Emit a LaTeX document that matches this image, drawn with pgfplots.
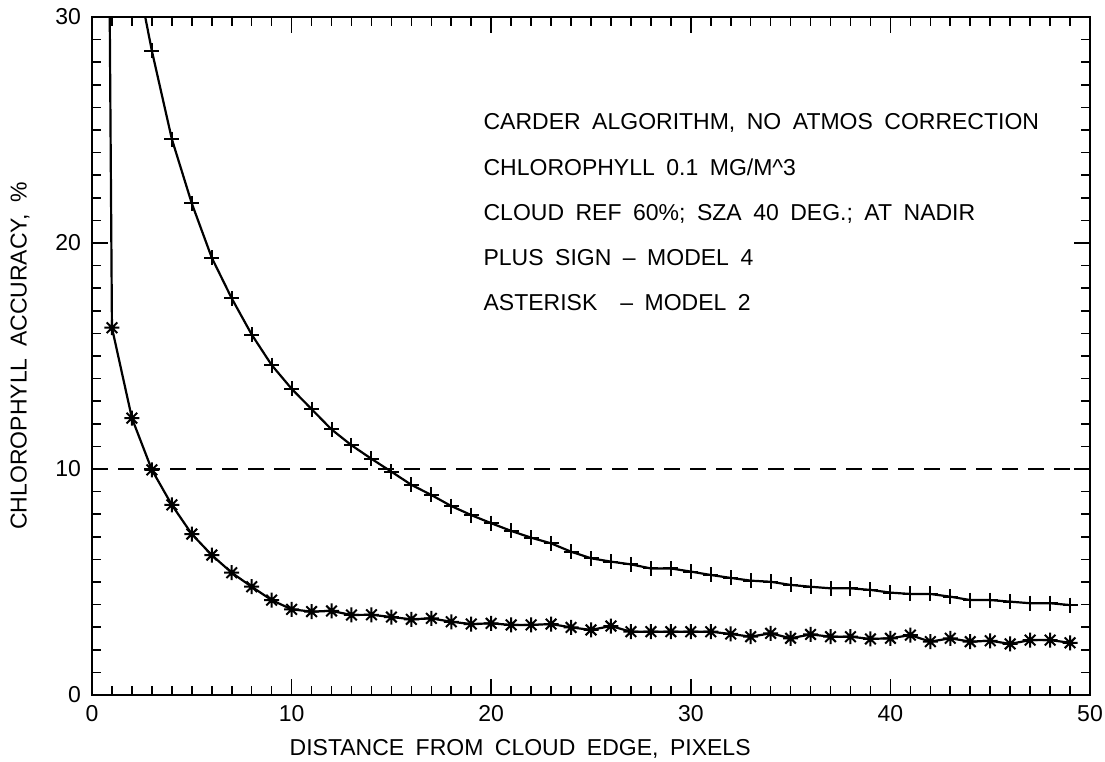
\documentclass[border=0pt]{standalone}
\usepackage{pgfplots}
\pgfplotsset{compat=1.18}
\usepackage{fontspec}
\setmainfont{Liberation Sans}[WordSpace=1.8]

% eight-armed asterisk: vertical, horizontal and both diagonals
\pgfdeclareplotmark{ast8}{%
  \pgfpathmoveto{\pgfqpoint{0pt}{\pgfplotmarksize}}%
  \pgfpathlineto{\pgfqpoint{0pt}{-\pgfplotmarksize}}%
  \pgfpathmoveto{\pgfqpoint{\pgfplotmarksize}{0pt}}%
  \pgfpathlineto{\pgfqpoint{-\pgfplotmarksize}{0pt}}%
  \pgfpathmoveto{\pgfqpoint{0.7071\pgfplotmarksize}{0.7071\pgfplotmarksize}}%
  \pgfpathlineto{\pgfqpoint{-0.7071\pgfplotmarksize}{-0.7071\pgfplotmarksize}}%
  \pgfpathmoveto{\pgfqpoint{-0.7071\pgfplotmarksize}{0.7071\pgfplotmarksize}}%
  \pgfpathlineto{\pgfqpoint{0.7071\pgfplotmarksize}{-0.7071\pgfplotmarksize}}%
  \pgfusepathqstroke}

\begin{document}
\begin{tikzpicture}
\begin{axis}[
  name=ax,
  scale only axis,
  width=499pt, height=339pt,
  xmin=0, xmax=50, ymin=0, ymax=30,
  xtick={0,10,...,50}, ytick={0,10,20,30},
  minor x tick num=9, minor y tick num=9,
  tick pos=both, tick align=inside,
  major tick length=8pt, minor tick length=4.5pt,
  axis line style={line width=1pt},
  every tick/.style={black, line width=0.8pt},
  tick label style={font=\fontsize{11.5}{13}\selectfont},
  /pgf/number format/assume math mode=true,
  xticklabel style={yshift=-4pt, inner sep=1pt},
  yticklabel style={xshift=-2pt},
  xlabel={DISTANCE FROM CLOUD EDGE, PIXELS},
  ylabel={CHLOROPHYLL ACCURACY, \%},
  every axis x label/.style={at={(axis description cs:0.429,-0.080)}, anchor=center,
    inner sep=1pt, font=\fontsize{11.5}{13}\selectfont},
  every axis y label/.style={at={(axis description cs:-0.072,0.5)}, rotate=90, anchor=center,
    font=\fontsize{11.5}{13}\selectfont},
  clip=true,
]
% 10 % accuracy threshold
\addplot[black, line width=0.75pt, dash pattern=on 8pt off 5pt] coordinates {(0,10) (50,10)};

% Model 4 (plus signs)
\addplot[black, line width=1.1pt, mark=+, mark size=3.75pt, mark options={line width=1pt}] coordinates {
(2,33.0) (3,28.5) (4,24.6) (5,21.75) (6,19.35) (7,17.55) (8,15.95) (9,14.6)
(10,13.55) (11,12.65) (12,11.75) (13,11.05) (14,10.45) (15,9.88) (16,9.3)
(17,8.85) (18,8.36) (19,7.96) (20,7.6) (21,7.26) (22,6.96) (23,6.71) (24,6.34)
(25,6.05) (26,5.9) (27,5.78) (28,5.6) (29,5.6) (30,5.46) (31,5.31) (32,5.18)
(33,5.06) (34,5.01) (35,4.87) (36,4.79) (37,4.72) (38,4.72) (39,4.65) (40,4.53)
(41,4.47) (42,4.47) (43,4.35) (44,4.2) (45,4.2) (46,4.13) (47,4.06) (48,4.06)
(49,3.98)
};

% Model 2 (asterisks)
\addplot[black, line width=1.1pt, mark=ast8, mark size=3.75pt, mark options={line width=1pt}] coordinates {
(0,140) (1,16.25) (2,12.25) (3,9.96) (4,8.41) (5,7.12) (6,6.19) (7,5.41) (8,4.79)
(9,4.2) (10,3.79) (11,3.69) (12,3.72) (13,3.54) (14,3.55) (15,3.45) (16,3.35)
(17,3.39) (18,3.24) (19,3.14) (20,3.17) (21,3.1) (22,3.1) (23,3.14) (24,2.99)
(25,2.88) (26,3.05) (27,2.8) (28,2.8) (29,2.8) (30,2.8) (31,2.8) (32,2.7)
(33,2.58) (34,2.73) (35,2.51) (36,2.68) (37,2.58) (38,2.58) (39,2.48) (40,2.51)
(41,2.65) (42,2.36) (43,2.51) (44,2.36) (45,2.4) (46,2.26) (47,2.43) (48,2.43)
(49,2.31)
};

\begin{scope}[every node/.style={anchor=base west, inner sep=0pt, font=\fontsize{11.5}{13}\selectfont}]
\node at (axis cs:19.6,25) {CARDER ALGORITHM, NO ATMOS CORRECTION};
\node at (axis cs:19.6,23) {CHLOROPHYLL 0.1 MG/M\textasciicircum 3};
\node at (axis cs:19.6,21) {CLOUD REF 60\%; SZA 40 DEG.; AT NADIR};
\node at (axis cs:19.6,19) {PLUS SIGN -- MODEL 4};
\node at (axis cs:19.6,17) {ASTERISK \ -- MODEL 2};
\end{scope}
\end{axis}
\pgfresetboundingbox
\path[use as bounding box] ([shift={(-46pt,-33.5pt)}]ax.south west) rectangle ([shift={(7.5pt,8.5pt)}]ax.north east);
\end{tikzpicture}
\end{document}
